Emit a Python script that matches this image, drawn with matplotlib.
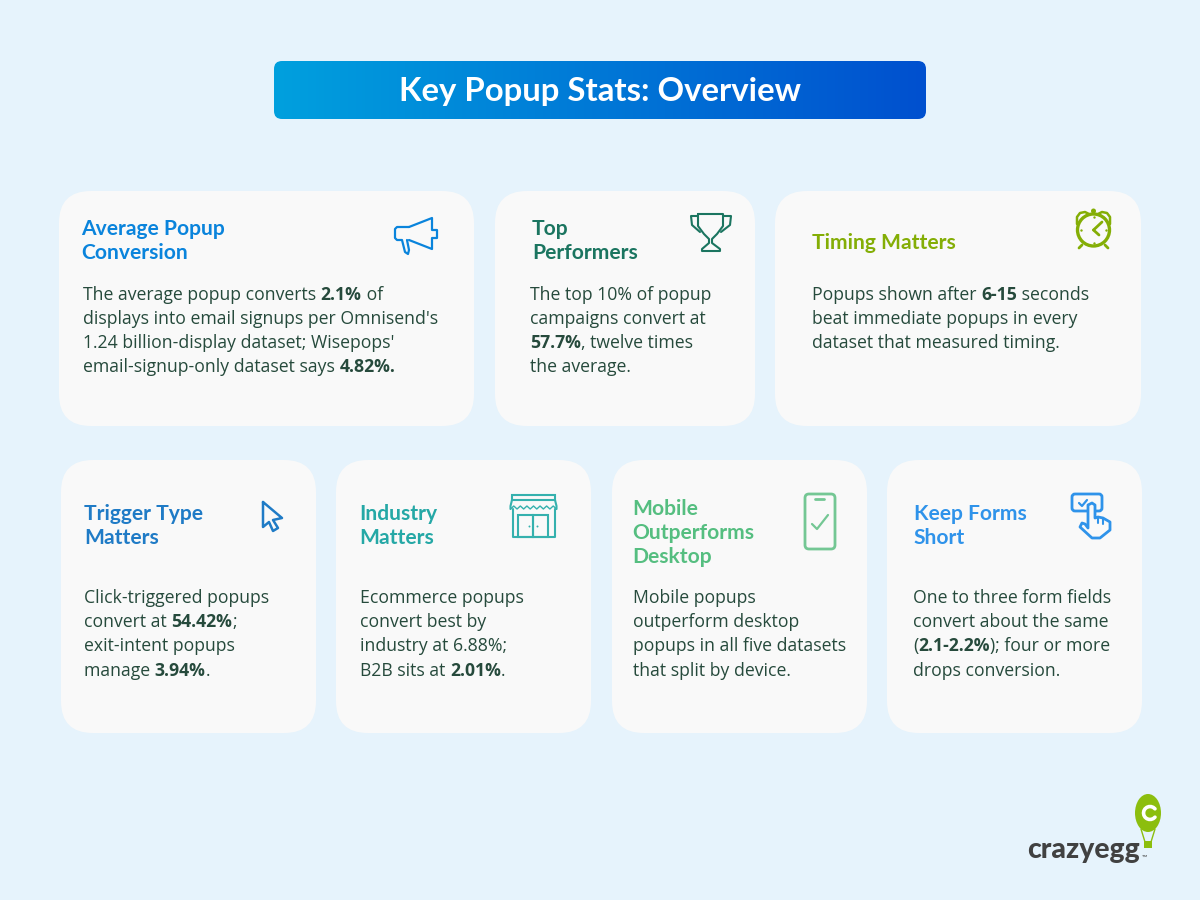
import matplotlib
matplotlib.use("Agg")
import matplotlib.pyplot as plt
import numpy as np
from matplotlib.patches import FancyBboxPatch, Ellipse, Circle, Polygon, Rectangle

plt.rcParams['font.family'] = ['Lato', 'DejaVu Sans']

# card contents, ** marks the bold parts of a line
titulo = "Key Popup Stats: Overview"
card_titles = [
    ["Average Popup", "Conversion"],
    ["Top", "Performers"],
    ["Timing Matters"],
    ["Trigger Type", "Matters"],
    ["Industry", "Matters"],
    ["Mobile", "Outperforms", "Desktop"],
    ["Keep Forms", "Short"],
]
card_bodies = [
    ["The average popup converts **2.1%** of",
     "displays into email signups per Omnisend's",
     "1.24 billion-display dataset; Wisepops'",
     "email-signup-only dataset says **4.82%.**"],
    ["The top 10% of popup",
     "campaigns convert at",
     "**57.7%**, twelve times",
     "the average."],
    ["Popups shown after **6-15** seconds",
     "beat immediate popups in every",
     "dataset that measured timing."],
    ["Click-triggered popups",
     "convert at **54.42%**;",
     "exit-intent popups",
     "manage **3.94%**."],
    ["Ecommerce popups",
     "convert best by",
     "industry at 6.88%;",
     "B2B sits at **2.01%**."],
    ["Mobile popups",
     "outperform desktop",
     "popups in all five datasets",
     "that split by device."],
    ["One to three form fields",
     "convert about the same",
     "(**2.1-2.2%**); four or more",
     "drops conversion."],
]
title_colors = ["#0A84DC", "#1B7560", "#84AE06", "#1F7BC6", "#25A8A6", "#55BE80", "#2F93EA"]
# left, top, right, bottom of each card in pixels
card_boxes = [(59, 191, 474, 426), (495, 191, 755, 426), (775, 191, 1141, 426),
              (61, 460, 316, 733), (336, 460, 591, 733), (612, 460, 867, 733), (887, 460, 1142, 733)]
title_x = [81, 532, 812, 84, 359, 632, 914]
title_y = [235, 235, 249, 520, 520, 515, 520]
body_x = [83, 530, 812, 84, 360, 633, 913]
body_y = [299.5, 299.5, 299.5, 603, 603, 603, 603]

BG = "#E6F3FC"
CARD = "#F9F9F9"
TEXT = "#264A3C"
BODY_FONT = ['Open Sans', 'DejaVu Sans']
BODY_SIZE = 12.7

fig = plt.figure(figsize=(12, 9), dpi=100, facecolor=BG)
ax = fig.add_axes([0, 0, 1, 1])
ax.set_xlim(0, 1200)
ax.set_ylim(900, 0)
ax.axis("off")


def caixa(x0, y0, x1, y1, r, **kw):
    p = FancyBboxPatch((x0 + r, y0 + r), x1 - x0 - 2 * r, y1 - y0 - 2 * r,
                       boxstyle="round,pad=%d,rounding_size=%d" % (r, r), **kw)
    ax.add_patch(p)
    return p


def largura(s, peso):
    # width with end markers, so that spaces at the ends are counted
    rend = fig.canvas.get_renderer()
    t1 = ax.text(0, 0, "x" + s + "x", fontsize=BODY_SIZE, family=BODY_FONT, fontweight=peso, alpha=0)
    t2 = ax.text(0, 0, "xx", fontsize=BODY_SIZE, family=BODY_FONT, fontweight=peso, alpha=0)
    w = t1.get_window_extent(rend).width - t2.get_window_extent(rend).width
    t1.remove()
    t2.remove()
    return w


def linha_rica(x, y, s):
    # draws a line piece by piece, bold where the ** markers say so
    for i, parte in enumerate(s.split("**")):
        if parte == "":
            continue
        peso = "bold" if i % 2 else "normal"
        ax.text(x, y, parte, fontsize=BODY_SIZE, family=BODY_FONT, color=TEXT, va="baseline", ha="left",
                fontweight=peso)
        x += largura(parte, peso)


# banner with gradient
grad = np.linspace(0, 1, 256).reshape(1, -1, 1)
c0 = np.array([0, 160, 222]).reshape(1, 1, 3) / 255
c1 = np.array([0, 80, 207]).reshape(1, 1, 3) / 255
img = ax.imshow(c0 * (1 - grad) + c1 * grad, extent=(274, 926, 119, 61), aspect="auto", zorder=1)
ax.set_xlim(0, 1200)
ax.set_ylim(900, 0)
clip = caixa(274, 61, 926, 119, 8, fc="none", ec="none")
img.set_clip_path(clip)
ax.text(600, 91.5, titulo, color="white", fontsize=23.7, fontweight="bold", ha="center", va="center", zorder=2)

# cards
for caixa_xy, tit, corpo, cor, tx, ty, bx, by in zip(card_boxes, card_titles, card_bodies, title_colors,
                                                     title_x, title_y, body_x, body_y):
    caixa(*caixa_xy, 32, fc=CARD, ec="none")
    for i, l in enumerate(tit):
        ax.text(tx, ty + i * 24, l, color=cor, fontsize=15.1, fontweight="bold", va="baseline")
    for i, l in enumerate(corpo):
        linha_rica(bx, by + i * 24.2, l)


def traco(xs, ys, cor, lw=1.6):
    ax.plot(xs, ys, color=cor, lw=lw, solid_capstyle="round", solid_joinstyle="round")


# megaphone
c = title_colors[0]
traco([409, 432, 432, 437, 437, 432, 432, 409], [227, 218, 230, 230, 238, 238, 249, 240], c)
traco([409, 397, 395, 395, 397, 402, 405, 408, 409, 407], [227, 227, 229, 238, 240, 240, 252, 254, 250, 240], c)

# trophy
c = title_colors[1]
traco([698, 723, 723, 717, 712, 712, 720, 720, 702, 702, 709, 709, 704, 698, 698],
      [214, 214, 226, 234, 239, 243, 249, 251, 251, 249, 243, 239, 234, 226, 214], c, 1.5)
traco([698, 691, 692, 700], [216, 216, 225, 232], c, 1.5)
traco([723, 731, 730, 721], [216, 216, 225, 232], c, 1.5)

# clock
c = title_colors[2]
ax.add_patch(Circle((1093.5, 230), 16, fc="none", ec=c, lw=2.4))
traco([1077, 1077, 1080, 1085, 1089], [224, 217, 213, 212, 214], c, 1.8)
traco([1110, 1110, 1107, 1102, 1098], [224, 217, 213, 212, 214], c, 1.8)
traco([1093.5, 1102], [230, 222], c, 2)
traco([1093.5, 1099], [230, 235], c, 2)
ax.add_patch(Circle((1093.5, 211), 2.5, fc=c, ec="none"))
ax.scatter([1093.5, 1093.5, 1081, 1106], [217, 243, 230, 230], s=3, color=c, linewidths=0)
traco([1082, 1079], [245, 248], c, 2)
traco([1105, 1108], [245, 248], c, 2)

# cursor
c = title_colors[3]
traco([263, 282, 273, 278, 273, 269, 263, 263], [502, 518, 520, 528, 531, 522, 527, 502], c, 1.8)

# store
c = "#35B1AE"
ax.add_patch(Rectangle((512, 495), 43, 5, fc="none", ec=c, lw=1.5))
traco([512, 510.5, 510.5], [500, 506, 509], c, 1.5)
traco([555, 556.5, 556.5], [500, 506, 509], c, 1.5)
traco(np.linspace(510.5, 556.5, 15), [509, 506] * 7 + [509], c, 1)
traco([513, 513, 555, 555], [509, 537, 537, 509], c, 1.5)
ax.add_patch(Rectangle((518, 515), 15, 22, fc="none", ec=c, lw=1.5))
ax.add_patch(Rectangle((533, 515), 15, 22, fc="none", ec=c, lw=1.5))
ax.scatter([529, 537], [526, 526], s=2, color=c, linewidths=0)

# phone
c = "#74C794"
caixa(805, 494, 835, 549, 4, fc="none", ec=c, lw=2)
traco([815, 824], [499, 499], c, 2)
traco([812, 817, 828], [524, 529, 515], c, 1.6)

# hand
c = title_colors[6]
caixa(1072, 494, 1102, 511, 3, fc=CARD, ec=c, lw=2)
traco([1079, 1082, 1087], [503, 506, 500], c, 1.6)
dedo_x = [1088, 1088, 1092, 1095, 1095, 1098, 1103, 1110, 1110, 1100, 1092, 1080, 1082, 1085, 1088]
dedo_y = [528, 505, 503, 505, 518, 517, 518, 522, 530, 538, 538, 527, 523, 524, 528]
ax.add_patch(Polygon(np.column_stack([dedo_x, dedo_y]), closed=True, fc=CARD, ec=c, lw=2, joinstyle="round"))
traco([1098, 1098], [517, 523], c, 1.5)
traco([1103, 1103], [518, 524], c, 1.5)

# logo
g = "#8CBE0E"
ax.add_patch(Ellipse((1148, 813), 26, 38, fc=g, ec="none"))
traco([1141, 1145], [829, 842], g, 1)
traco([1155, 1151], [829, 842], g, 1)
ax.add_patch(Rectangle((1144, 841), 8, 7, fc=g, ec="none"))
t = np.radians(np.arange(40, 321, 20))
traco(1150 + 6.5 * np.cos(t), 813 + 6.5 * np.sin(t), "white", 2.6)
ax.text(1027, 858, "crazyegg", color="#414141", fontsize=20.4, fontweight="black", va="baseline")
ax.text(1142, 860, "™", color="#414141", fontsize=5, va="baseline")

fig.savefig("out.png", dpi=100, facecolor=BG)
